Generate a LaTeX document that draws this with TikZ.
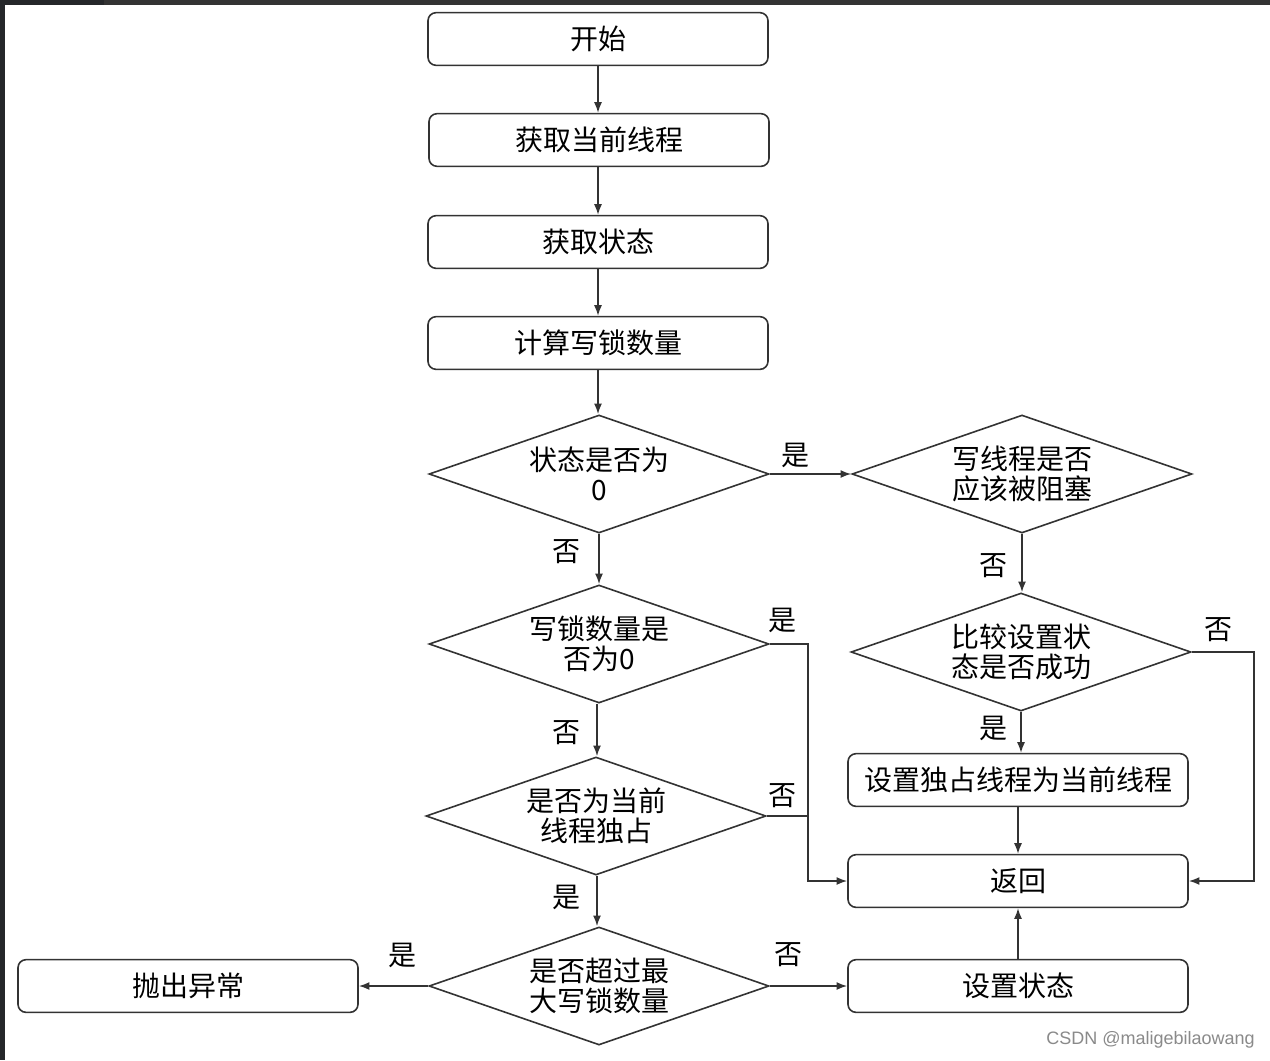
\documentclass[tikz,border=0pt]{standalone}
\usepackage{fontspec}
\setmainfont{Noto Sans CJK SC}
\newfontfamily\wmfont{Liberation Sans}
\usetikzlibrary{shapes.geometric,arrows.meta}
\definecolor{ln}{HTML}{333333}
\definecolor{frameA}{HTML}{25272A}
\definecolor{frameB}{HTML}{333333}
\definecolor{wm}{HTML}{8A8A8A}
\tikzset{
  px/.style={x=0.75pt,y=-0.75pt},
  box/.style={draw=ln,line width=1.2pt,rounded corners=6pt,minimum width=255pt,minimum height=39.5pt,inner sep=0pt,font=\fontsize{21}{22.5}\selectfont,fill=white},
  dia/.style={draw=ln,line width=1.2pt,shape=diamond,shape aspect=2.88,minimum width=255pt,minimum height=88.5pt,inner sep=0pt,align=center,font=\fontsize{21}{22.5}\selectfont},
  lab/.style={font=\fontsize{21}{22.5}\selectfont,inner sep=0pt},
  arr/.style={draw=ln,line width=1.2pt,-{Latex[length=8pt,width=6pt]}},
  lnk/.style={draw=ln,line width=1.2pt}
}
\begin{document}
\begin{tikzpicture}[px]
\useasboundingbox (0,0) rectangle (1270,1060);
\fill[white] (0,0) rectangle (1270,1060);
\fill[frameB] (0,0) rectangle (1270,4.5);
\fill[frameA] (0,0) rectangle (104,4.5);
\fill[frameA] (0,0) rectangle (5,1060);

% left column
\node[box] (start) at (598,39) {开始};
\node[box] (getth) at (599,140) {获取当前线程};
\node[box] (getst) at (598,242) {获取状态};
\node[box] (calc) at (598,343) {计算写锁数量};
\node[dia] (d1) at (599,474) {状态是否为\\0};
\node[dia] (d3) at (599,644) {写锁数量是\\否为0};
\node[dia] (d5) at (596,816) {是否为当前\\线程独占};
\node[dia] (d6) at (599,986) {是否超过最\\大写锁数量};
\node[box] (throw) at (188,986) {抛出异常};

% right column
\node[dia] (d2) at (1022,474) {写线程是否\\应该被阻塞};
\node[dia] (d4) at (1021,652) {比较设置状\\态是否成功};
\node[box] (setown) at (1018,780) {设置独占线程为当前线程};
\node[box] (ret) at (1018,881) {返回};
\node[box] (setst) at (1018,986) {设置状态};

\coordinate (j1) at (808,881);
\coordinate (j2) at (1254,881);

% connectors
\draw[arr] (start.south) -- (start.south |- getth.north);
\draw[arr] (getth.south -| start.south) -- (start.south |- getst.north);
\draw[arr] (getst.south) -- (getst.south |- calc.north);
\draw[arr] (calc.south) -- (calc.south |- d1.north);
\draw[arr] (d1.south) -- (d1.south |- d3.north);
\draw[arr] (d3.south -| 597,0) -- (597,0 |- d5.north);
\draw[arr] (d5.south -| 597,0) -- (597,0 |- d6.north);
\draw[arr] (d1.east) -- (d2.west);
\draw[arr] (d2.south) -- (d2.south |- d4.north);
\draw[arr] (d4.south) -- (d4.south |- setown.north);
\draw[arr] (setown.south) -- (ret.north);
\draw[arr] (setst.north) -- (ret.south);
\draw[arr] (d6.west) -- (throw.east);
\draw[arr] (d6.east) -- (setst.west);
\draw[arr] (d3.east) -| (j1) -- (ret.west);
\draw[lnk] (d5.east) -- (d5.east -| j1);
\draw[arr] (d4.east) -| (j2) -- (ret.east);

% labels
\node[lab] (l1) at (795,455) {是};
\node[lab] (l2) at (566,552) {否};
\node[lab] (l3) at (993,566) {否};
\node[lab] (l4) at (782,620) {是};
\node[lab] (l5) at (1218,630) {否};
\node[lab] (l6) at (566,733) {否};
\node[lab] (l7) at (993,728) {是};
\node[lab] (l8) at (782,796) {否};
\node[lab] (l9) at (566,897) {是};
\node[lab] (l10) at (402,955) {是};
\node[lab] (l11) at (788,955) {否};

\node[anchor=east,inner sep=0pt,text=wm,font=\wmfont\fontsize{13.5}{15}\selectfont] (wmk) at (1255,1040) {CSDN @maligebilaowang};
\end{tikzpicture}
\end{document}
